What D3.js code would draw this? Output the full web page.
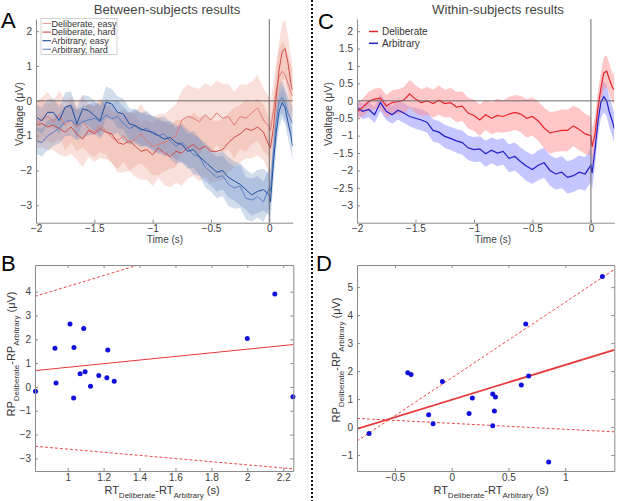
<!DOCTYPE html>
<html><head><meta charset="utf-8">
<script src="https://cdn.jsdelivr.net/npm/d3@7"></script>
<style>
body{margin:0;background:#fff}
svg{display:block}
text{font-family:"Liberation Sans",Arial,Helvetica,sans-serif}
</style>
</head><body>
<svg id="chart" width="617" height="501"></svg>
<script>
// ---------- DATA ----------
const times = [-2,-1.95,-1.9,-1.85,-1.8,-1.75,-1.7,-1.65,-1.6,-1.55,
  -1.5,-1.45,-1.4,-1.35,-1.3,-1.25,-1.2,-1.15,-1.1,-1.05,
  -1,-0.95,-0.9,-0.85,-0.8,-0.75,-0.7,-0.65,-0.6,-0.55,
  -0.5,-0.45,-0.4,-0.35,-0.3,-0.25,-0.2,-0.15,-0.1,-0.05,
  0, 0.01,0.035,0.06,0.085,0.11,0.135,0.16,0.185,0.2];

// Panel A (between subjects)
const betweenNames = ["Deliberate, easy","Deliberate, hard","Arbitrary, easy","Arbitrary, hard"];
const delibEasy = [-0.65,-0.55,-0.45,-0.6,-0.4,-0.7,-0.55,-0.75,-0.6,-0.8,
  -0.9,-0.7,-0.85,-1.05,-1.15,-1.0,-1.2,-1.1,-0.95,-1.15,
  -1.3,-1.25,-1.2,-1.1,-1.0,-0.55,-0.45,-0.5,-0.6,-0.4,
  -0.55,-0.35,-0.5,-0.45,-0.7,-0.45,-0.5,-0.35,-0.2,-0.55,
  -0.75,-0.85,-0.3,0.3,0.7,0.85,0.75,0.5,0.25,0.15];
const delibEasyErr = [0.6,0.65,0.7,0.62,0.68,0.72,0.66,0.7,0.75,0.7,
  0.72,0.78,0.7,0.75,0.8,0.76,0.82,0.78,0.85,0.8,
  0.84,0.88,0.82,0.86,0.9,0.85,0.92,0.88,0.95,0.9,
  0.96,0.92,0.98,0.94,0.95,0.92,0.96,0.9,0.94,0.9,
  0.85,0.82,0.8,0.8,0.82,0.85,0.85,0.8,0.78,0.75];
const delibHard = [-0.7,-0.65,-0.75,-0.7,-0.8,-0.9,-0.75,-0.95,-1.1,-0.85,
  -0.95,-0.8,-0.9,-0.95,-1.2,-1.25,-1.15,-1.3,-1.45,-1.4,
  -1.55,-1.35,-1.5,-1.6,-1.45,-1.5,-1.35,-1.25,-1.4,-1.3,
  -1.45,-1.45,-1.4,-1.2,-1.05,-0.95,-0.8,-0.85,-0.75,-0.9,
  -1.3,-1.35,-0.8,0.1,0.9,1.4,1.5,1.1,0.5,0.3];
const delibHardErr = [0.65,0.7,0.66,0.72,0.75,0.7,0.78,0.74,0.8,0.76,
  0.8,0.84,0.78,0.82,0.86,0.8,0.85,0.88,0.82,0.86,
  0.9,0.86,0.92,0.88,0.9,0.94,0.88,0.9,0.92,0.88,
  0.9,0.86,0.88,0.84,0.86,0.82,0.85,0.8,0.82,0.8,
  0.78,0.78,0.76,0.78,0.8,0.82,0.84,0.8,0.78,0.75];
const arbEasy = [-0.47,-0.57,-0.33,-0.33,-0.57,-0.18,-0.13,-0.66,-0.23,-0.28,
  -0.42,-0.57,-0.04,-0.09,-0.33,-0.38,-0.66,-0.71,-0.81,-0.86,
  -0.9,-1.0,-1.1,-1.05,-1.2,-1.25,-1.45,-1.4,-1.6,-1.75,
  -1.9,-2.05,-2.0,-2.2,-2.3,-2.4,-2.55,-2.7,-2.6,-2.55,
  -2.7,-2.9,-1.8,-0.9,-0.3,-0.05,-0.2,-0.6,-1.0,-1.3];
const arbEasyErr = [0.35,0.38,0.36,0.4,0.38,0.42,0.4,0.44,0.4,0.42,
  0.44,0.42,0.45,0.43,0.46,0.44,0.46,0.45,0.48,0.46,
  0.48,0.46,0.5,0.48,0.5,0.52,0.5,0.53,0.52,0.55,
  0.54,0.56,0.55,0.58,0.56,0.6,0.58,0.6,0.62,0.6,
  0.6,0.58,0.55,0.5,0.48,0.46,0.46,0.45,0.45,0.44];
const arbHard = [-1.14,-1.2,-1.0,-0.9,-0.78,-0.6,-0.55,-0.7,-0.6,-0.55,
  -0.5,-0.6,-0.4,-0.52,-0.45,-0.65,-0.8,-0.72,-0.85,-0.78,
  -0.95,-1.0,-0.95,-1.15,-1.3,-1.2,-1.35,-1.55,-1.6,-1.9,
  -2.05,-2.2,-2.15,-2.4,-2.5,-2.45,-2.8,-2.85,-2.75,-2.9,
  -2.5,-2.6,-1.5,-0.6,0.0,0.1,-0.1,-0.35,-0.55,-0.65];
const arbHardErr = [0.38,0.4,0.42,0.4,0.44,0.42,0.45,0.43,0.46,0.44,
  0.46,0.48,0.45,0.47,0.46,0.48,0.46,0.5,0.48,0.5,
  0.5,0.52,0.5,0.53,0.52,0.55,0.53,0.56,0.55,0.58,
  0.56,0.6,0.58,0.62,0.6,0.63,0.6,0.62,0.6,0.58,
  0.58,0.56,0.52,0.5,0.48,0.46,0.45,0.45,0.44,0.44];

// Panel C (within subjects)
const withinNames = ["Deliberate","Arbitrary"];
const withinDelib = [-0.32,-0.18,-0.02,0.05,0.08,-0.15,-0.05,-0.02,0.02,0.2,
  0.05,-0.05,0.0,-0.08,0.02,-0.08,-0.05,-0.18,-0.15,-0.35,
  -0.42,-0.55,-0.4,-0.5,-0.42,-0.45,-0.38,-0.33,-0.38,-0.5,
  -0.45,-0.58,-0.78,-0.92,-0.88,-0.85,-0.85,-0.72,-0.82,-0.95,
  -1.0,-1.32,-0.95,-0.2,0.35,0.8,0.85,0.6,0.38,0.32];
const withinDelibErr = [0.22,0.25,0.28,0.3,0.3,0.32,0.35,0.35,0.38,0.4,
  0.4,0.38,0.4,0.4,0.42,0.4,0.42,0.44,0.42,0.44,
  0.45,0.45,0.44,0.46,0.48,0.47,0.5,0.5,0.52,0.55,
  0.55,0.56,0.58,0.6,0.58,0.6,0.6,0.58,0.6,0.58,
  0.55,0.5,0.5,0.48,0.46,0.45,0.45,0.44,0.42,0.42];
const withinArb = [-0.2,-0.3,-0.25,-0.4,-0.05,-0.3,-0.4,-0.27,-0.35,-0.45,
  -0.5,-0.55,-0.62,-0.85,-0.9,-1.02,-1.08,-1.15,-1.2,-1.35,
  -1.4,-1.38,-1.52,-1.42,-1.5,-1.45,-1.65,-1.6,-1.75,-1.88,
  -1.97,-1.85,-1.78,-2.0,-2.1,-2.05,-2.2,-2.15,-2.05,-2.1,
  -1.85,-2.08,-1.4,-0.6,-0.05,0.12,0.0,-0.35,-0.6,-0.8];
const withinArbErr = [0.2,0.22,0.22,0.24,0.25,0.25,0.26,0.27,0.28,0.28,
  0.3,0.3,0.3,0.32,0.32,0.33,0.33,0.34,0.35,0.35,
  0.36,0.36,0.37,0.37,0.38,0.38,0.4,0.4,0.4,0.42,
  0.42,0.43,0.43,0.44,0.45,0.46,0.46,0.47,0.48,0.48,
  0.48,0.48,0.46,0.45,0.45,0.45,0.44,0.44,0.43,0.42];

const timeTicks = [-2,-1.5,-1,-0.5,0];
const voltTicksA = [-3,-2,-1,0,1,2];
const voltTicksC = [-3,-2.5,-2,-1.5,-1,-0.5,0,0.5,1,1.5,2];

// Panel B scatter (between subjects)
const bRT = [0.821,0.929,0.935,1.013,1.035,1.033,1.069,1.089,1.097,1.127,1.173,1.218,1.223,1.259,2.0,2.153,2.254];
const bRP = [-0.18,1.62,0.17,2.64,1.66,-0.46,0.55,2.45,0.64,0.03,0.48,0.39,1.55,0.24,2.03,3.90,-0.41];
const bFit = [0.062,0.7615];        // intercept, slope
const bFitUpper = [1.923,2.295];
const bFitLower = [-1.950,-0.6606];
const bXTicks = [1,1.2,1.4,1.6,1.8,2,2.2];
const bYTicks = [-3,-2,-1,0,1,2,3,4];

// Panel D scatter (within subjects)
const dRT = [-0.728,-0.387,-0.358,-0.082,-0.203,-0.164,0.153,0.182,0.361,0.385,0.376,0.361,0.613,0.652,0.678,0.854,1.327];
const dRP = [-0.23,1.94,1.88,1.63,0.44,0.12,0.48,1.04,1.18,1.07,0.57,0.05,1.50,3.68,1.82,-1.25,5.38];
const dFit = [0.972,1.249];
const dFitUpper = [1.756,2.705];
const dFitLower = [0.133,-0.2118];
const dXTicks = [-0.5,0,0.5,1];
const dYTicks = [-1,0,1,2,3,4,5];

// ---------- DRAW ----------
const svg = d3.select("#chart");
const axisCol = "#8a8a8a", textCol = "#404040";

function styleAxis(g, labels){
  g.select(".domain").attr("stroke", axisCol);
  g.selectAll(".tick line").attr("stroke", axisCol);
  g.selectAll(".tick text").attr("fill", textCol).attr("font-size", 10)
    .attr("font-family", '"Liberation Sans",Arial,sans-serif');
  if(!labels) g.selectAll(".tick text").remove();
}

function tsPanel(o){
  const x = d3.scaleLinear().domain([-2,0.2]).range([o.x0,o.x1]);
  const y = d3.scaleLinear().domain([-3.5,2.35]).range([222.7,19]);
  const clipId = "clip"+o.id;
  svg.append("clipPath").attr("id",clipId).append("rect")
    .attr("x",o.x0).attr("y",19).attr("width",o.x1-o.x0).attr("height",222.7-19);
  const g = svg.append("g").attr("clip-path",`url(#${clipId})`);
  o.series.forEach(s=>{
    const area = d3.area().x((d,i)=>x(times[i]))
      .y0((d,i)=>y(d - s.err[i])).y1((d,i)=>y(d + s.err[i]));
    g.append("path").datum(s.values).attr("d",area)
      .attr("fill",s.band).attr("fill-opacity",s.bandOp).attr("stroke","none");
  });
  svg.append("line").attr("x1",x(-2)).attr("x2",x(0.2)).attr("y1",y(0)).attr("y2",y(0))
    .attr("stroke","#6a6a6a").attr("stroke-width",1);
  o.series.forEach(s=>{
    const line = d3.line().x((d,i)=>x(times[i])).y(d=>y(d));
    g.append("path").datum(s.values).attr("d",line)
      .attr("fill","none").attr("stroke",s.color).attr("stroke-width",s.lw);
  });
  svg.append("line").attr("x1",x(0)).attr("x2",x(0)).attr("y1",19).attr("y2",222.7)
    .attr("stroke","#6a6a6a").attr("stroke-width",1);
  const ax = svg.append("g").attr("transform",`translate(0,222.7)`)
    .call(d3.axisBottom(x).tickValues(timeTicks).tickFormat(d3.format("")).tickSizeInner(-3).tickSizeOuter(0).tickPadding(2));
  styleAxis(ax,true);
  const ay = svg.append("g").attr("transform",`translate(${o.x0},0)`)
    .call(d3.axisLeft(y).tickValues(o.yTicks).tickFormat(d3.format("")).tickSizeInner(-3).tickSizeOuter(0).tickPadding(4));
  styleAxis(ay,true);
  svg.append("text").attr("x",o.tx).attr("y",242.8).attr("text-anchor","middle")
    .attr("font-size",10).attr("fill",textCol).text("Time (s)");
  svg.append("text").attr("transform",`translate(${o.ylx},114) rotate(-90)`)
    .attr("text-anchor","middle").attr("font-size",10.5).attr("fill",textCol)
    .text("Voaltage (μV)");
  return {x,y};
}

// Panel A
tsPanel({id:"A", x0:36, x1:292.6, tx:165, ylx:22.5, yTicks:voltTicksA, series:[
  {values:delibEasy, err:delibEasyErr, color:"#e07a7a", band:"#e8907a", bandOp:0.28, lw:1},
  {values:delibHard, err:delibHardErr, color:"#cf4a4a", band:"#e8907a", bandOp:0.28, lw:1},
  {values:arbHard, err:arbHardErr, color:"#5b7fc2", band:"#5a80c0", bandOp:0.28, lw:1},
  {values:arbEasy, err:arbEasyErr, color:"#1f4f9e", band:"#5a80c0", bandOp:0.28, lw:1}
]});
// Panel C
tsPanel({id:"C", x0:357, x1:614.3, tx:493, ylx:332, yTicks:voltTicksC, series:[
  {values:withinArb, err:withinArbErr, color:"#2020c8", band:"#8c8cff", bandOp:0.5, lw:1.2},
  {values:withinDelib, err:withinDelibErr, color:"#e8262a", band:"#ff9090", bandOp:0.5, lw:1.2}
]});

// Legend A
svg.append("rect").attr("x",41).attr("y",18.5).attr("width",76).attr("height",36)
  .attr("fill","#fff").attr("stroke","#c8c8c8").attr("stroke-width",0.8);
const legA = [["#e8a0a0",betweenNames[0]],["#cf5a5a",betweenNames[1]],["#2a5aa6",betweenNames[2]],["#7090c8",betweenNames[3]]];
legA.forEach((d,i)=>{
  const yy = 23.5 + i*8.6;
  svg.append("line").attr("x1",42.5).attr("x2",51).attr("y1",yy).attr("y2",yy).attr("stroke",d[0]).attr("stroke-width",1.2);
  svg.append("text").attr("x",51.5).attr("y",yy+3.2).attr("font-size",9).attr("fill","#333").text(d[1]);
});
// Legend C
[["#e8262a",withinNames[0]],["#2020c8",withinNames[1]]].forEach((d,i)=>{
  const yy = 31.5 + i*11.8;
  svg.append("line").attr("x1",369).attr("x2",378).attr("y1",yy).attr("y2",yy).attr("stroke",d[0]).attr("stroke-width",1.5);
  svg.append("text").attr("x",382).attr("y",yy+3.5).attr("font-size",10).attr("fill","#333").text(d[1]);
});

// Titles and panel letters
svg.append("text").attr("x",167).attr("y",14).attr("text-anchor","middle").attr("font-size",13.2).attr("fill","#444").text("Between-subjects results");
svg.append("text").attr("x",498).attr("y",14).attr("text-anchor","middle").attr("font-size",13.2).attr("fill","#444").text("Within-subjects results");
[["A",1,28],["C",318,29],["B",1,271],["D",316,271]].forEach(d=>{
  svg.append("text").attr("x",d[1]).attr("y",d[2]).attr("font-size",22).attr("fill","#000").text(d[0]);
});

// Separator
svg.append("line").attr("x1",312).attr("x2",312).attr("y1",0).attr("y2",501)
  .attr("stroke","#111").attr("stroke-width",2).attr("stroke-dasharray","2,2");

// Scatter panels
function scatterPanel(o){
  const x = d3.scaleLinear().domain(o.xd).range([o.x0,o.x1]);
  const y = d3.scaleLinear().domain(o.yd).range([471,265]);
  const clipId = "clip"+o.id;
  svg.append("clipPath").attr("id",clipId).append("rect")
    .attr("x",o.x0).attr("y",265).attr("width",o.x1-o.x0).attr("height",206);
  const g = svg.append("g").attr("clip-path",`url(#${clipId})`);
  const fitLine = (f,dash,w)=>{
    g.append("line").attr("x1",x(o.xd[0])).attr("x2",x(o.xd[1]))
      .attr("y1",y(f[0]+f[1]*o.xd[0])).attr("y2",y(f[0]+f[1]*o.xd[1]))
      .attr("stroke","#e8383a").attr("stroke-width",w).attr("stroke-dasharray",dash);
  };
  fitLine(o.fit,null,o.lw);
  fitLine(o.up,"3,2",0.9);
  fitLine(o.lo,"3,2",0.9);
  svg.append("g").selectAll("circle").data(o.xs).join("circle")
    .attr("cx",d=>x(d)).attr("cy",(d,i)=>y(o.ys[i])).attr("r",2.5).attr("fill","#1010dd");
  const ab = svg.append("g").attr("transform","translate(0,471)")
    .call(d3.axisBottom(x).tickValues(o.xt).tickFormat(d3.format("")).tickSizeInner(-3).tickSizeOuter(0).tickPadding(3));
  styleAxis(ab,true);
  const at = svg.append("g").attr("transform","translate(0,265)")
    .call(d3.axisTop(x).tickValues(o.xt).tickSizeInner(-3).tickSizeOuter(0));
  styleAxis(at,false);
  const al = svg.append("g").attr("transform",`translate(${o.x0},0)`)
    .call(d3.axisLeft(y).tickValues(o.yt).tickFormat(d3.format("")).tickSizeInner(-3).tickSizeOuter(0).tickPadding(4));
  styleAxis(al,true);
  const ar = svg.append("g").attr("transform",`translate(${o.x1},0)`)
    .call(d3.axisRight(y).tickValues(o.yt).tickSizeInner(-3).tickSizeOuter(0));
  styleAxis(ar,false);
  const xl = svg.append("text").attr("x",o.xlx).attr("y",493.5).attr("text-anchor","middle").attr("font-size",11).attr("fill","#333");
  xl.append("tspan").text("RT");
  xl.append("tspan").attr("dy",4).attr("font-size",8).text("Deliberate");
  xl.append("tspan").attr("dy",-4).text("-RT");
  xl.append("tspan").attr("dy",4).attr("font-size",8).text("Arbitrary");
  xl.append("tspan").attr("dy",-4).text(" (s)");
  const yl = svg.append("text").attr("transform",`translate(${o.ylx},${o.yly}) rotate(-90)`)
    .attr("text-anchor","middle").attr("font-size",11).attr("fill","#333");
  yl.append("tspan").text("RP");
  yl.append("tspan").attr("dy",4).attr("font-size",8).text("Deliberate");
  yl.append("tspan").attr("dy",-4).text("-RP");
  yl.append("tspan").attr("dy",4).attr("font-size",8).text("Arbitrary");
  yl.append("tspan").attr("dy",-4).text(" (μV)");
}

scatterPanel({id:"B", x0:35, x1:293.3, xd:[0.818,2.256], yd:[-3.53,5.12], xs:bRT, ys:bRP,
  fit:bFit, up:bFitUpper, lo:bFitLower, lw:1, xt:bXTicks, yt:bYTicks, xlx:162, ylx:15, yly:354});
scatterPanel({id:"D", x0:357, x1:614.3, xd:[-0.834,1.432], yd:[-1.57,5.79], xs:dRT, ys:dRP,
  fit:dFit, up:dFitUpper, lo:dFitLower, lw:1.8, xt:dXTicks, yt:dYTicks, xlx:491, ylx:340, yly:360});
</script>
</body></html>
